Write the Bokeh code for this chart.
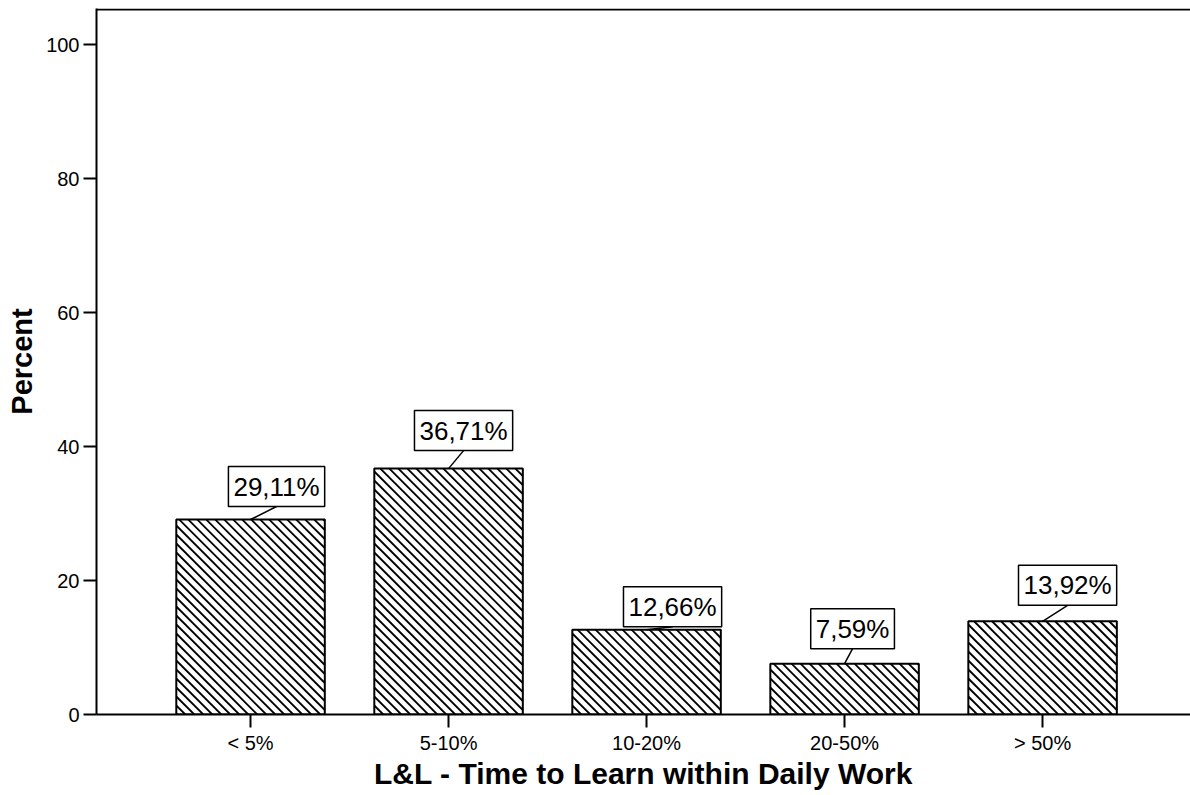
from bokeh.plotting import figure
from bokeh.models import FixedTicker, Label, Span, Range1d
from bokeh.embed import file_html
from bokeh.resources import INLINE

# ---- data ----
categories = ["< 5%", "5-10%", "10-20%", "20-50%", "> 50%"]
percent_values = [29.11, 36.71, 12.66, 7.59, 13.92]
y_ticks = [0, 20, 40, 60, 80, 100]
x_title = "L&L - Time to Learn within Daily Work"
y_title = "Percent"

# label call-out offsets (screen px): horizontal shift, gap above bar
label_dx = [26, 15, 26, 8, 25]
label_gap = [13, 18, 3, 15, 16]

FONT = "Liberation Sans"
W, H = 1190, 795
MB_L, MB_R, MB_T, MB_B = 96, 0, 8, 81
FRAME_W = W - MB_L - MB_R
FRAME_H = H - MB_T - MB_B

positions = list(range(len(categories)))
BAR_W = 0.75
x_start, x_end = -0.778, len(categories) - 1 + 0.747
y_start, y_end = 0, 105.4
ux = (x_end - x_start) / FRAME_W   # data units per px (x)
uy = (y_end - y_start) / FRAME_H   # data units per px (y)

p = figure(width=W, height=H, output_backend="svg", toolbar_location=None,
           x_range=Range1d(x_start, x_end), y_range=Range1d(y_start, y_end),
           min_border_left=MB_L, min_border_right=MB_R,
           min_border_top=MB_T, min_border_bottom=MB_B)
p.outline_line_color = None
p.xgrid.visible = False
p.ygrid.visible = False
p.background_fill_color = "white"
p.border_fill_color = "white"

p.vbar(x=positions, top=percent_values, width=BAR_W, bottom=0,
       fill_color="white", line_color=None)

# 45-degree "\" hatching, clipped to each bar (computed in screen px)
HATCH_STEP = 9.0
hx0, hy0, hx1, hy1 = [], [], [], []
for x, v in zip(positions, percent_values):
    left = x - BAR_W / 2
    bw = BAR_W / ux
    bh = v / uy
    c = HATCH_STEP
    while c < bw + bh:
        ua, ub = max(0.0, c - bh), min(bw, c)
        hx0.append(left + ua * ux); hy0.append((c - ua) * uy)
        hx1.append(left + ub * ux); hy1.append((c - ub) * uy)
        c += HATCH_STEP
p.segment(x0=hx0, y0=hy0, x1=hx1, y1=hy1, line_color="black", line_width=1.8)

p.vbar(x=positions, top=percent_values, width=BAR_W, bottom=0,
       fill_color=None, line_color="black", line_width=2)

# leader lines
x1 = [x + dx * ux for x, dx in zip(positions, label_dx)]
y1 = [v + g * uy for v, g in zip(percent_values, label_gap)]
p.segment(x0=positions, y0=percent_values, x1=x1, y1=y1,
          line_color="black", line_width=1.5)

PAD = 5
for x, v, dx, g in zip(positions, percent_values, label_dx, label_gap):
    txt = f"{v:.2f}".replace(".", ",") + "%"
    p.add_layout(Label(x=x, y=v, x_offset=dx, y_offset=g, text=txt,
                       text_align="center", text_baseline="bottom",
                       text_font=FONT, text_font_size="26px", text_color="black",
                       padding=PAD, border_line_color="black", border_line_width=1.5,
                       background_fill_color="white"))

# top frame line
p.add_layout(Span(location=y_end - 1.0 * uy, dimension="width",
                  line_color="black", line_width=2))

for ax in (p.xaxis[0], p.yaxis[0]):
    ax.axis_line_width = 2
    ax.axis_line_color = "black"
    ax.major_tick_line_width = 2
    ax.major_tick_line_color = "black"
    ax.major_tick_out = 13
    ax.major_tick_in = 0
    ax.minor_tick_line_color = None
    ax.major_label_text_font = FONT
    ax.major_label_text_font_size = "20px"
    ax.major_label_text_color = "black"
    ax.axis_label_text_font = FONT
    ax.axis_label_text_font_style = "bold"
    ax.axis_label_text_color = "black"

p.xaxis.ticker = FixedTicker(ticks=positions)
p.xaxis.major_label_overrides = {i: c for i, c in zip(positions, categories)}
p.xaxis.major_label_standoff = 4
p.xaxis.axis_label_standoff = 0
p.xaxis.axis_label_text_font_size = "30px"
p.xaxis.axis_label = x_title

p.yaxis.ticker = FixedTicker(ticks=y_ticks)
p.yaxis.major_label_standoff = 4
p.yaxis.axis_label_standoff = 5
p.yaxis.axis_label_text_font_size = "29px"
p.yaxis.axis_label = y_title

open("out.html", "w").write(file_html(p, INLINE))
